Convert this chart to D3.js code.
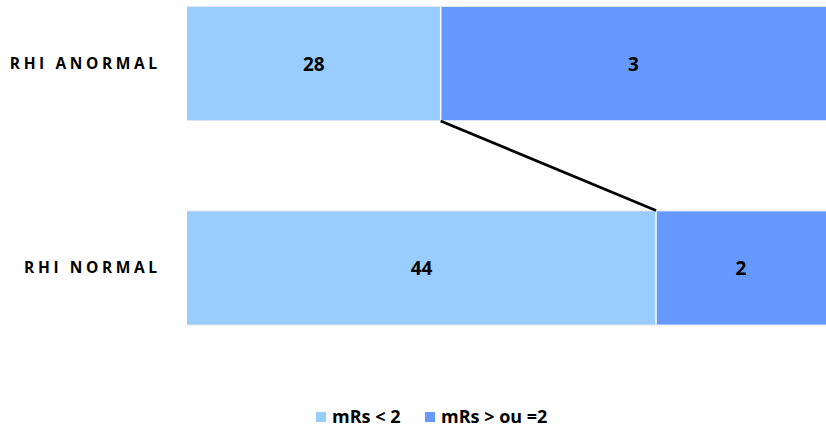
<!DOCTYPE html>
<html>
<head>
<meta charset="utf-8">
<script src="https://cdn.jsdelivr.net/npm/d3@7/dist/d3.min.js"></script>
<style>
  html, body { margin: 0; padding: 0; background: #fff; }
  svg { display: block; }
  text { font-family: "Open Sans", Lato, "Liberation Sans", sans-serif; font-weight: 700; fill: #000; }
</style>
</head>
<body>
<svg id="chart" width="826" height="427"></svg>
<script>
// ---- data ----
const categories = ["RHI ANORMAL", "RHI NORMAL"];
const seriesNames = ["mRs < 2", "mRs > ou =2"];
const seriesColors = ["#99CCFF", "#6699FF"];
// share of each bar (percent, 100% stacked)
const shareLow = [39.7, 73.4];
const shareHigh = [60.3, 26.6];
// data labels shown on bars
const labelLow = [28, 44];
const labelHigh = [3, 2];

const svg = d3.select("#chart");

const x = d3.scaleLinear().domain([0, 100]).range([187, 826]);
const y = d3.scaleBand().domain(categories).range([7, 324.5]).paddingInner(0.447).paddingOuter(0);

const rows = categories.map((c, i) => ({ cat: c, vals: [shareLow[i], shareHigh[i]], labels: [labelLow[i], labelHigh[i]] }));
const stack = d3.stack().keys([0, 1]).value((d, k) => d.vals[k]);
const series = stack(rows);

// faint bar outline
svg.append("g").selectAll("rect").data(rows).join("rect")
  .attr("x", x(0)).attr("y", d => y(d.cat) - 1)
  .attr("width", x(100) - x(0)).attr("height", y.bandwidth() + 2)
  .attr("fill", "#e2e6ee");

const g = svg.append("g");
series.forEach((s, k) => {
  g.selectAll(".seg" + k).data(s).join("rect")
    .attr("x", d => x(d[0]))
    .attr("y", d => y(d.data.cat))
    .attr("width", d => x(d[1]) - x(d[0]))
    .attr("height", y.bandwidth())
    .attr("fill", seriesColors[k]);
});
// white separators between segments
g.selectAll(".sep").data(series[0]).join("line")
  .attr("x1", d => x(d[1])).attr("x2", d => x(d[1]))
  .attr("y1", d => y(d.data.cat)).attr("y2", d => y(d.data.cat) + y.bandwidth())
  .attr("stroke", "#fff").attr("stroke-width", 1.5);

// series line between the two bars
svg.append("line")
  .attr("x1", x(series[0][0][1])).attr("y1", y(categories[0]) + y.bandwidth() + 1)
  .attr("x2", x(series[0][1][1])).attr("y2", y(categories[1]) - 1)
  .attr("stroke", "#000").attr("stroke-width", 2.8);

// data labels
series.forEach((s, k) => {
  svg.selectAll(".lab" + k).data(s).join("text")
    .attr("x", d => (x(d[0]) + x(d[1])) / 2)
    .attr("y", d => y(d.data.cat) + y.bandwidth() / 2 + 7.5)
    .attr("text-anchor", "middle")
    .attr("font-size", 19)
    .text(d => d.data.labels[k]);
});

// category axis labels
const catSpacing = 3.6;
svg.selectAll(".cat").data(categories).join("text")
  .attr("x", 157 + catSpacing)
  .attr("y", d => y(d) + y.bandwidth() / 2 + 5)
  .attr("text-anchor", "end")
  .attr("font-size", 15.5)
  .attr("letter-spacing", catSpacing + "px")
  .text(d => d);

// legend
const legendX = [316, 425];
const lg = svg.append("g");
seriesNames.forEach((n, k) => {
  lg.append("rect").attr("x", legendX[k]).attr("y", 412).attr("width", 10).attr("height", 10).attr("fill", seriesColors[k]);
  lg.append("text").attr("x", legendX[k] + 16).attr("y", 422.5)
    .attr("font-size", 18).text(n);
});
</script>
</body>
</html>
